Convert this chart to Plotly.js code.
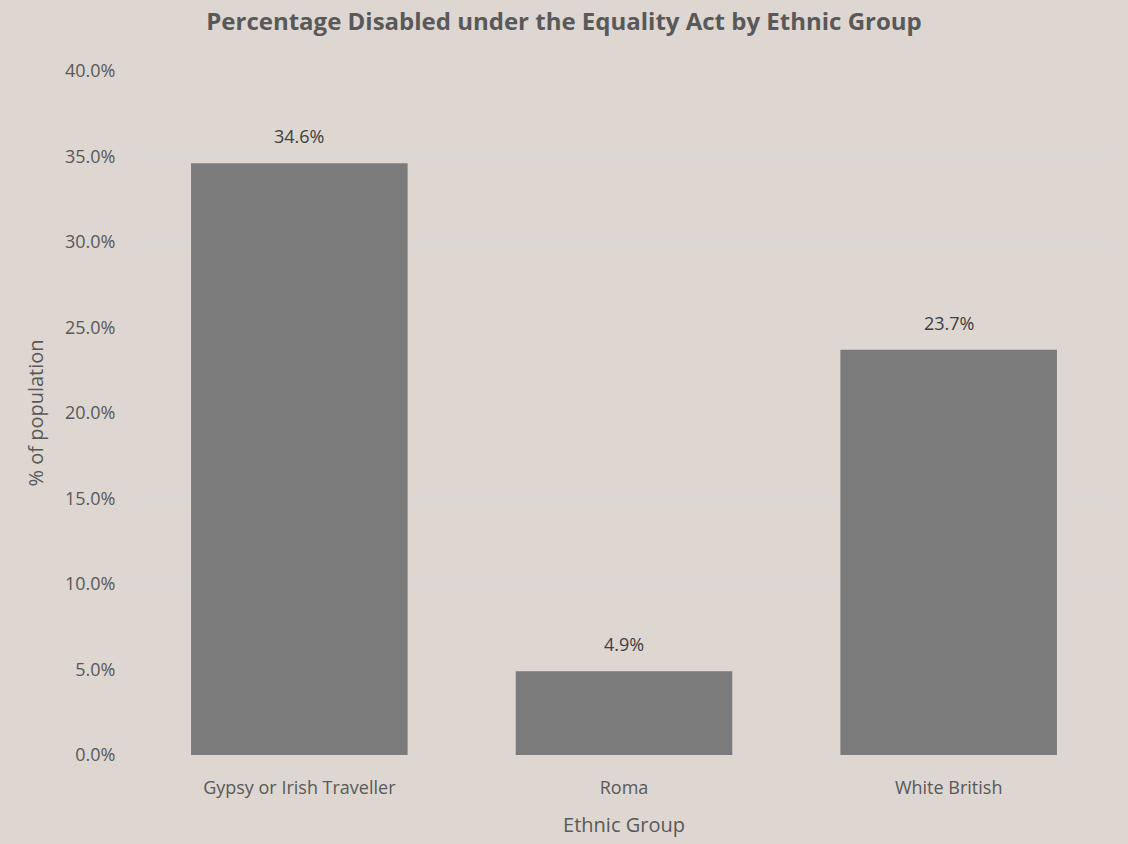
<!DOCTYPE html>
<html>
<head>
<meta charset="utf-8">
<script src="https://cdn.plot.ly/plotly-3.0.1.min.js"></script>
<style>html,body{margin:0;padding:0;background:#DDD6D1;}</style>
</head>
<body>
<div id="chart" style="width:1128px;height:844px;"></div>
<script>
const categories = ["Gypsy or Irish Traveller", "Roma", "White British"];
const values = [0.346, 0.049, 0.237];
const tickVals = [0, 0.05, 0.10, 0.15, 0.20, 0.25, 0.30, 0.35, 0.40];

const font = "Open Sans, Noto Sans, sans-serif";
const pct = v => (v * 100).toFixed(1) + "%";

Plotly.newPlot("chart", [{
  type: "bar",
  x: categories,
  y: values,
  marker: {color: "#7B7B7B"},
  hoverinfo: "skip"
}], {
  width: 1128,
  height: 844,
  paper_bgcolor: "#DDD6D1",
  plot_bgcolor: "#DDD6D1",
  margin: {l: 137, r: 17, t: 71, b: 89},
  bargap: 0.333,
  title: {
    text: "<b>Percentage Disabled under the Equality Act by Ethnic Group</b>",
    font: {family: font, size: 24, color: "#595959"},
    x: 0.5, xanchor: "center", y: 0.974, yanchor: "middle"
  },
  annotations: categories.map((c, i) => ({
    x: c, y: values[i], xref: "x", yref: "y",
    text: pct(values[i]), showarrow: false,
    yanchor: "bottom", yshift: 13,
    font: {family: font, size: 18, color: "#404040"}
  })),
  xaxis: {
    title: {text: "Ethnic Group", font: {family: font, size: 20, color: "#595959"}, standoff: 20},
    tickfont: {family: font, size: 18, color: "#595959"},
    showgrid: false,
    showline: true, linecolor: "#D8D8D8", linewidth: 1,
    ticks: "outside", ticklen: 16, tickcolor: "rgba(0,0,0,0)"
  },
  yaxis: {
    title: {text: "% of population", font: {family: font, size: 20, color: "#595959"}, standoff: 15},
    range: [0, 0.40],
    tickvals: tickVals,
    ticktext: tickVals.map(pct),
    tickfont: {family: font, size: 18, color: "#595959"},
    gridcolor: "#D8D8D8", gridwidth: 1,
    zeroline: false,
    ticks: "outside", ticklen: 17, tickcolor: "rgba(0,0,0,0)"
  },
  showlegend: false
}, {displayModeBar: false, staticPlot: true});
</script>
</body>
</html>
